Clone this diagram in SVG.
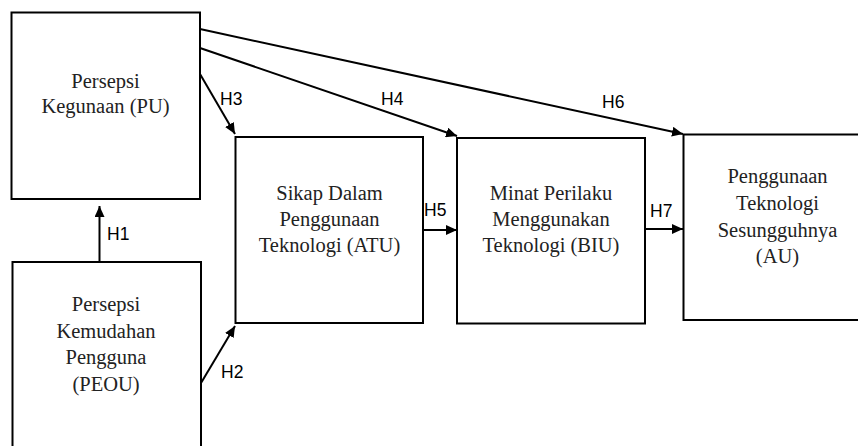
<svg xmlns="http://www.w3.org/2000/svg" width="858" height="446" viewBox="0 0 858 446">
<style>
.box{fill:#fff;stroke:#000;stroke-width:2}
.t{font-family:"Liberation Serif","Times New Roman",serif;font-size:20.5px;fill:#222;text-anchor:middle}
.lbl{font-family:"Liberation Sans",Arial,sans-serif;font-size:17.5px;fill:#000}
.c{stroke:#000;stroke-width:2;fill:none;marker-end:url(#ah)}
</style>
<defs>
<marker id="ah" markerUnits="userSpaceOnUse" markerWidth="11" markerHeight="10" refX="11" refY="5" orient="auto">
<path d="M0,0 L11,5 L0,10 z" fill="#000"/>
</marker>
</defs>
<rect width="858" height="446" fill="#fff"/>
<g id="connectors">
<line class="c" x1="99.5" y1="262" x2="99.5" y2="206"/>
<line class="c" x1="201" y1="383" x2="235" y2="326"/>
<line class="c" x1="200" y1="74" x2="235" y2="134"/>
<line class="c" x1="200" y1="48" x2="457" y2="136"/>
<line class="c" x1="200" y1="29" x2="683" y2="134"/>
<line class="c" x1="423" y1="230" x2="457" y2="230"/>
<line class="c" x1="645" y1="229" x2="683" y2="229"/>
<text class="lbl" x="107" y="240">H1</text>
<text class="lbl" x="221" y="378">H2</text>
<text class="lbl" x="220" y="105">H3</text>
<text class="lbl" x="381" y="105">H4</text>
<text class="lbl" x="424" y="216">H5</text>
<text class="lbl" x="602" y="108">H6</text>
<text class="lbl" x="650" y="217">H7</text>
</g>
<g id="PU">
<rect class="box" x="11.5" y="12.5" width="188.5" height="186.5"/>
<text class="t" x="105.5" y="88">Persepsi</text>
<text class="t" x="105.5" y="113">Kegunaan (PU)</text>
</g>
<g id="PEOU">
<rect class="box" x="12.5" y="262" width="188.5" height="200"/>
<text class="t" x="106" y="311">Persepsi</text>
<text class="t" x="106" y="337.5">Kemudahan</text>
<text class="t" x="106" y="364">Pengguna</text>
<text class="t" x="106" y="390.5">(PEOU)</text>
</g>
<g id="ATU">
<rect class="box" x="235.5" y="137" width="187.5" height="186"/>
<text class="t" x="329.5" y="200">Sikap Dalam</text>
<text class="t" x="329.5" y="226">Penggunaan</text>
<text class="t" x="329.5" y="252">Teknologi (ATU)</text>
</g>
<g id="BIU">
<rect class="box" x="457" y="138" width="188" height="185.5"/>
<text class="t" x="551" y="200">Minat Perilaku</text>
<text class="t" x="551" y="226">Menggunakan</text>
<text class="t" x="551" y="252">Teknologi (BIU)</text>
</g>
<g id="AU">
<rect class="box" x="683.5" y="134.5" width="188" height="185.5"/>
<text class="t" x="777.5" y="183">Penggunaan</text>
<text class="t" x="777.5" y="209.5">Teknologi</text>
<text class="t" x="777.5" y="236.5">Sesungguhnya</text>
<text class="t" x="777.5" y="263">(AU)</text>
</g>
</svg>
